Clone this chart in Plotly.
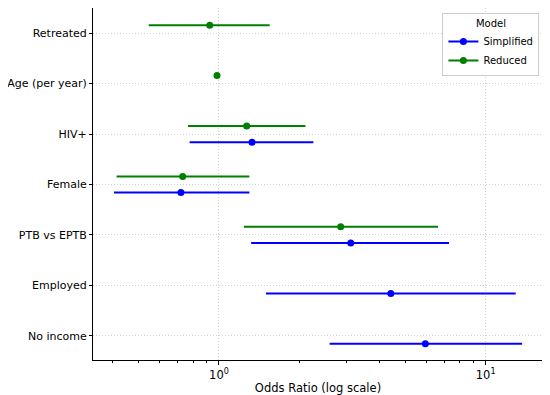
import plotly.graph_objects as go

# Categories, bottom to top (index = vertical position)
categories = ["No income", "Employed", "PTB vs EPTB", "Female", "HIV+", "Age (per year)", "Retreated"]

# Simplified model
simp_cats = ["HIV+", "Female", "PTB vs EPTB", "Employed", "No income"]
simp_or = [1.33, 0.72, 3.12, 4.41, 5.94]
simp_lo = [0.776, 0.404, 1.32, 1.50, 2.60]
simp_hi = [2.26, 1.30, 7.29, 12.96, 13.7]

# Reduced model
red_cats = ["Retreated", "Age (per year)", "HIV+", "Female", "PTB vs EPTB"]
red_or = [0.923, 0.983, 1.27, 0.731, 2.86]
red_lo = [0.545, 0.972, 0.765, 0.413, 1.24]
red_hi = [1.549, 0.995, 2.11, 1.30, 6.63]

xtick_vals = [1, 10]
xtick_text = ["10<sup>0</sup>", "10<sup>1</sup>"]
minor_vals = [0.4, 0.5, 0.6, 0.7, 0.8, 0.9, 2, 3, 4, 5, 6, 7, 8, 9]

OFF = 0.16
FONT = "DejaVu Sans"

fig = go.Figure()


def add_model(name, cats, ors, los, his, color, offset):
    ys = [categories.index(c) + offset for c in cats]
    sx, sy, px, py = [], [], [], []
    for y, o, lo, hi in zip(ys, ors, los, his):
        sx += [lo, hi, None]
        sy += [y, y, None]
        px += [o, None]
        py += [y, None]
    fig.add_trace(go.Scatter(x=sx, y=sy, mode="lines", line=dict(color=color, width=2),
                             showlegend=False, hoverinfo="skip"))
    fig.add_trace(go.Scatter(x=px, y=py, mode="lines+markers", name=name,
                             line=dict(color=color, width=2), connectgaps=False,
                             marker=dict(color=color, size=7)))


add_model("Simplified", simp_cats, simp_or, simp_lo, simp_hi, "blue", -OFF)
add_model("Reduced", red_cats, red_or, red_lo, red_hi, "green", OFF)

fig.add_shape(type="line", xref="x", yref="paper", x0=0, x1=0, y0=0, y1=1,
              line=dict(color="red", width=1.8, dash="6px,3px"), layer="above")

fig.update_xaxes(
    type="log", range=[-0.4724, 1.215],
    tickvals=xtick_vals, ticktext=xtick_text,
    ticks="outside", ticklen=4, tickcolor="black",
    showline=True, linecolor="black", linewidth=1,
    showgrid=True, gridcolor="#d2d2d2", gridwidth=1, griddash="1px,2px",
    zeroline=False, mirror=False,
    minor=dict(tickvals=minor_vals, ticks="outside", ticklen=2, tickcolor="black", showgrid=False),
    tickfont=dict(family=FONT, size=11.5, color="black"),
    title=dict(text="Odds Ratio (log scale)", font=dict(family=FONT, size=11.5, color="black"), standoff=4),
)
fig.update_yaxes(
    range=[-0.48, 6.5],
    tickvals=list(range(len(categories))), ticktext=categories,
    ticks="outside", ticklen=3, tickcolor="black",
    showline=True, linecolor="black", linewidth=1,
    showgrid=True, gridcolor="#d2d2d2", gridwidth=1, griddash="1px,2px",
    zeroline=False,
    tickfont=dict(family=FONT, size=11, color="black"),
)

fig.update_layout(
    width=542, height=387,
    margin=dict(l=85, r=7, t=0, b=35, autoexpand=False),
    plot_bgcolor="white", paper_bgcolor="white",
    font=dict(family=FONT, size=11, color="black"),
    legend=dict(
        x=0.992, y=0.986, xanchor="right", yanchor="top",
        bgcolor="white", bordercolor="#cccccc", borderwidth=1,
        font=dict(family=FONT, size=10, color="black"),
        title=dict(text="Model", side="top center", font=dict(family=FONT, size=10, color="black")),
        itemwidth=30, tracegroupgap=0,
    ),
    showlegend=True,
)

fig.write_html("out.html")
